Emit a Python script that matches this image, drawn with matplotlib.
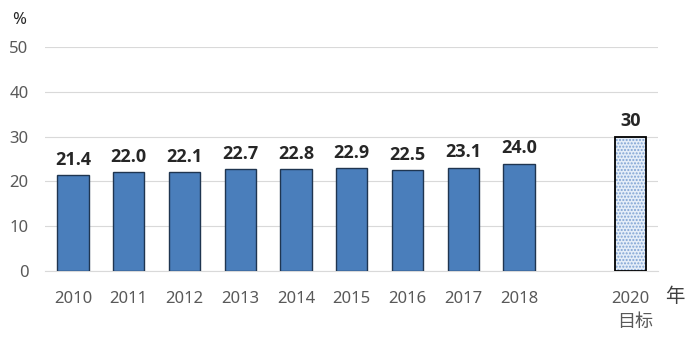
import numpy as np
import matplotlib.pyplot as plt

plt.rcParams['font.family'] = ['Noto Sans', 'Noto Sans CJK SC', 'DejaVu Sans']

years = ['2010', '2011', '2012', '2013', '2014', '2015', '2016', '2017', '2018']
values = [21.4, 22.0, 22.1, 22.7, 22.8, 22.9, 22.5, 23.1, 24.0]
target_year = '2020'
target_note = '目标'
target_value = 30

fig = plt.figure(figsize=(6.93, 3.61), dpi=100)
ax = fig.add_axes([0.065, 0.249, 0.885, 0.621])

x = np.arange(len(years))
x_target = len(years) + 1
w = 0.56

ax.bar(x, values, width=w, color='#4A7EBB', edgecolor='#1F3550', linewidth=1.0, zorder=3)
# target bar: dotted fill + black outline
ax.bar(x_target, target_value, width=w, color='#E4EDF8', edgecolor='#7FA3D3',
       hatch='.....', linewidth=0, zorder=3)
ax.bar(x_target, target_value, width=w, fill=False, edgecolor='black', linewidth=1.3, zorder=4)

lab_font = dict(fontsize=13, fontweight='bold', color='#262626', family=['Open Sans', 'DejaVu Sans'])
for xi, v in zip(x, values):
    ax.text(xi, v + 1.4, f'{v:.1f}', ha='center', va='bottom', **lab_font)
ax.text(x_target, target_value + 1.4, f'{target_value}', ha='center', va='bottom', **lab_font)

ax.set_xlim(-0.5, 10.5)
ax.set_ylim(0, 50)
ax.set_yticks([0, 10, 20, 30, 40, 50])
ax.set_xticks(list(x) + [x_target])
ax.set_xticklabels(years + [target_year])
ax.tick_params(axis='both', length=0, labelsize=12, labelcolor='#595959')
ax.tick_params(axis='x', pad=14)
ax.tick_params(axis='y', pad=12)
ax.grid(axis='y', color='#D9D9D9', linewidth=0.8, zorder=0)
for s in ['top', 'right', 'left']:
    ax.spines[s].set_visible(False)
ax.spines['bottom'].set_color('#D9D9D9')
ax.spines['bottom'].set_linewidth(0.8)

fig.text(635 / 693, 1 - 322 / 361, target_note, ha='center', va='center', fontsize=13,
         color='#595959', family=['Noto Sans CJK SC'])
fig.text(12 / 693, 1 - 20 / 361, '%', ha='left', va='center', fontsize=12, color='#262626')
fig.text(675 / 693, 1 - 297 / 361, '年', ha='center', va='center', fontsize=14,
         color='#404040', family=['Noto Sans CJK SC'])

fig.savefig('out.png', dpi=100)
